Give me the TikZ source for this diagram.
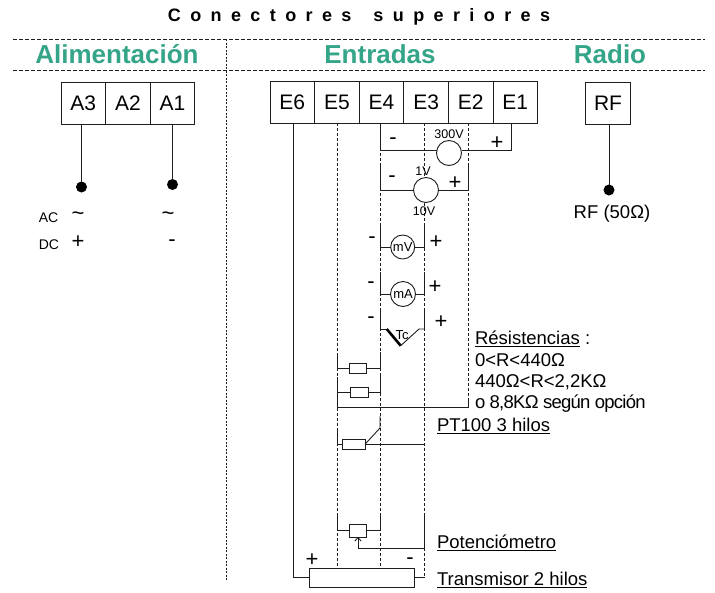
\documentclass[tikz,border=0pt]{standalone}
\usepackage{fontspec}
\setmainfont{Liberation Sans}
\newfontfamily\tightfont[LetterSpace=-4]{Liberation Sans}
\usetikzlibrary{positioning,arrows.meta}
\definecolor{titlegreen}{RGB}{53,165,138}
\definecolor{wirecolor}{RGB}{30,30,30}
\tikzset{
	every node/.style = {inner sep=0pt, outer sep=0pt, align=left},
	term/.style = {draw=wirecolor, line width=0.9pt, minimum width=44.6pt, minimum height=42pt, font=\fontsize{21}{21}\selectfont},
	head/.style = {text=titlegreen, font=\fontsize{26}{26}\selectfont\bfseries},
	note/.style = {anchor=west, font=\fontsize{18.5}{18.5}\selectfont},
	sign/.style = {font=\fontsize{22}{22}\selectfont},
	small/.style = {font=\fontsize{12.5}{12.5}\selectfont},
	meter/.style = {circle, draw=wirecolor, line width=0.9pt, fill=white, minimum size=25pt},
	res/.style = {rectangle, draw=wirecolor, line width=0.9pt, fill=white, minimum height=10pt},
	wire/.style = {draw=wirecolor, line width=0.9pt},
	rail/.style = {draw=wirecolor, line width=0.8pt, dash pattern=on 3pt off 2pt},
	guide/.style = {draw=wirecolor, line width=0.8pt, dash pattern=on 4pt off 2pt},
	dot/.style = {circle, fill=black, minimum size=11pt}
}
\begin{document}
\begin{tikzpicture}[x=1pt,y=-1pt]
\useasboundingbox (0,0) rectangle (715,592);
% headings
\node[font=\fontsize{18}{18}\selectfont\bfseries] (title) at (359,17) {\spaceskip=9.4pt C o n e c t o r e s\hspace{22pt}s u p e r i o r e s};
\node[head] (alim) at (117,54) {Alimentación};
\node[head] (entr) at (380,54) {Entradas};
\node[head] (radio) at (610,54) {Radio};
\coordinate (topL) at (13,39);
\coordinate (topR) at (705,39);
\coordinate (midL) at (13,70);
\coordinate (midR) at (705,70);
\coordinate (sepT) at (226,39);
\coordinate (sepB) at (226,580);
\draw[guide] (topL) -- (topR);
\draw[guide] (midL) -- (midR);
\draw[guide, line width=0.7pt, dash pattern=on 2pt off 1.5pt] (sepT) -- (sepB);
% terminals
\node[term] (A3) at (83.3,103) {A3};
\node[term, right=0pt of A3] (A2) {A2};
\node[term, right=0pt of A2] (A1) {A1};
\node[term] (E6) at (292.3,102.5) {E6};
\node[term, right=0pt of E6] (E5) {E5};
\node[term, right=0pt of E5] (E4) {E4};
\node[term, right=0pt of E4] (E3) {E3};
\node[term, right=0pt of E3] (E2) {E2};
\node[term, right=0pt of E2] (E1) {E1};
\node[term] (RF) at (608,103) {RF};
% supply and radio
\node[dot] (dotA3) at (81.5,187) {};
\node[dot] (dotA1) at (172.5,184.5) {};
\node[dot] (dotRF) at (609,190) {};
\draw[wire] (dotA3) -- (dotA3 |- A3.south);
\draw[wire] (dotA1) -- (dotA1 |- A1.south);
\draw[wire] (dotRF) -- (dotRF |- RF.south);
\node[small, font=\fontsize{14}{14}\selectfont] (ac) at (48.5,218) {AC};
\node[small, font=\fontsize{14}{14}\selectfont] (dc) at (49,245) {DC};
\node[sign] (acA) at (78,216) {\textasciitilde};
\node[sign] (acB) at (168,216) {\textasciitilde};
\node[sign] (dcA) at (78,242) {+};
\node[sign] (dcB) at (172,243) {-};
\node[note, anchor=center] (rfText) at (612,214) {RF (50Ω)};
% transmitter and rails
\node[res, minimum width=105pt, minimum height=19pt] (tx) at (361.5,577.5) {};
\coordinate (railE6) at (293.5,123);
\coordinate (railE5) at (337,123);
\coordinate (railE4) at (380,123);
\coordinate (railE3) at (424.5,123);
\coordinate (railE2) at (468,123);
\coordinate (railE1) at (511.7,123);
\draw[wire] (railE6) |- (tx.west);
\draw[rail] (railE5) -- (railE5 |- tx.north);
\draw[rail] (railE4) -- (railE4 |- tx.north);
\draw[rail] (railE3) -- (railE3 |- tx.east);
\draw[wire] (tx.east) -- (railE3 |- tx.east);
\coordinate (busR) at (468,407);
\coordinate (busL) at (337,407);
\draw[rail] (railE2) -- (busR);
\node[sign] (txP) at (312,560) {+};
\node[sign] (txM) at (410,561) {-};
% 300V meter
\node[meter] (m300) at (449,153) {};
\coordinate (w300L) at (380,150.7);
\coordinate (w300R) at (511.7,150.7);
\draw[wire] (railE4) -- (w300L) -- (m300.west |- w300L);
\draw[wire] (m300.east |- w300R) -- (w300R) -- (railE1);
\node[small] (l300) at (449,134) {300V};
\node[sign] (s300m) at (393,141) {-};
\node[sign] (s300p) at (497,143) {+};
% 1V 10V meter
\node[meter] (m1) at (426,190) {};
\coordinate (w1La) at (380,165);
\coordinate (w1Lb) at (380,190);
\coordinate (w1Ra) at (468,165);
\coordinate (w1Rb) at (468,190);
\draw[wire] (w1La) -- (w1Lb) -- (m1.west);
\draw[wire] (w1Ra) -- (w1Rb) -- (m1.east);
\node[small] (l1) at (423,171) {1V};
\node[small] (l10) at (424,211) {10V};
\node[sign] (s1m) at (392,179) {-};
\node[sign] (s1p) at (455,183) {+};
% mV meter
\node[meter, minimum size=24pt, font=\fontsize{13}{13}\selectfont] (mv) at (402.7,247) {mV};
\coordinate (mvLa) at (380,223);
\coordinate (mvLb) at (380,247);
\coordinate (mvRa) at (424.5,223);
\coordinate (mvRb) at (424.5,247);
\draw[wire] (mvLa) -- (mvLb) -- (mv.west);
\draw[wire] (mvRa) -- (mvRb) -- (mv.east);
\node[sign] (mvM) at (372,240) {-};
\node[sign] (mvP) at (436,242) {+};
% mA meter
\node[meter, minimum size=25pt, font=\fontsize{13}{13}\selectfont] (ma) at (403,294) {mA};
\coordinate (maLa) at (380,272);
\coordinate (maLb) at (380,294);
\coordinate (maRa) at (424.5,272);
\coordinate (maRb) at (424.5,294);
\draw[wire] (maLa) -- (maLb) -- (ma.west);
\draw[wire] (maRa) -- (maRb) -- (ma.east);
\node[sign] (maM) at (371,285) {-};
\node[sign] (maP) at (435,287) {+};
% thermocouple
\coordinate (tcLa) at (380,310);
\coordinate (tcLb) at (380,329);
\coordinate (tcA) at (386.7,329);
\coordinate (tcTip) at (400.7,345.7);
\coordinate (tcB) at (419,329);
\coordinate (tcRb) at (424.5,329);
\coordinate (tcRa) at (424.5,310);
\draw[wire] (tcLa) -- (tcLb) -- (tcA);
\draw[draw=black, line width=2.6pt] (tcA) -- (tcTip);
\draw[wire] (tcTip) -- (tcB) -- (tcRb) -- (tcRa);
\node[font=\fontsize{13}{13}\selectfont] (tcText) at (402,335) {Tc};
\node[sign] (tcM) at (371,320) {-};
\node[sign] (tcP) at (441,322) {+};
% resistances
\node[res, minimum width=17.5pt] (r1) at (358,368) {};
\node[res, minimum width=17.5pt] (r2) at (359.2,392) {};
\coordinate (r1La) at (337,355);
\coordinate (r1Lb) at (337,368);
\coordinate (r1Ra) at (380,352);
\coordinate (r1Rb) at (380,368);
\coordinate (r2La) at (337,377);
\coordinate (r2Lb) at (337,392);
\coordinate (r2Ra) at (380,375);
\coordinate (r2Rb) at (380,392);
\draw[wire] (r1La) -- (r1Lb) -- (r1.west);
\draw[wire] (r1Ra) -- (r1Rb) -- (r1.east);
\draw[wire] (r2La) -- (r2Lb) -- (r2.west);
\draw[wire] (r2Ra) -- (r2Rb) -- (r2.east);
\draw[wire] (r2Lb) -- (busL) -- (busR) -- ++(0,-8);
% PT100
\node[res, minimum width=22.5pt] (pt) at (354,444) {};
\coordinate (ptLa) at (337,431);
\coordinate (ptLb) at (337,444);
\coordinate (ptRb) at (424.5,444);
\coordinate (ptK) at (380,428);
\coordinate (ptT) at (380,416);
\draw[wire] (ptLa) -- (ptLb) -- (pt.west);
\draw[wire] (pt.east) -- (ptRb);
\draw[wire] (pt.east) -- (ptK) -- (ptT);
% potentiometer
\node[res, minimum width=17.5pt, minimum height=13pt] (pot) at (358,530.5) {};
\coordinate (potLa) at (337,516);
\coordinate (potLb) at (337,530.5);
\coordinate (potRa) at (380,516);
\coordinate (potRb) at (380,530.5);
\coordinate (potWa) at (424.5,515);
\coordinate (potWb) at (424.5,548);
\draw[wire] (potLa) -- (potLb) -- (pot.west);
\draw[wire] (potRa) -- (potRb) -- (pot.east);
\draw[wire, -{Straight Barb[length=3.5pt,width=6.5pt]}] (potWa) -- (potWb) -- (pot.south |- potWb) -- (pot.south);
% texts
\node[note] (resText) at (475,372) {\underline{Résistencias} :\\[2.8pt]0<R<440Ω\\[2.8pt]440Ω<R<2,2KΩ\\[2.8pt]{\tightfont o 8,8KΩ según opción}};
\node[note] (ptText) at (437,426) {\underline{PT100 3 hilos}};
\node[note] (potText) at (437,543) {\underline{Potenciómetro}};
\node[note] (txText) at (437,580) {\underline{Transmisor 2 hilos}};
\end{tikzpicture}
\end{document}
